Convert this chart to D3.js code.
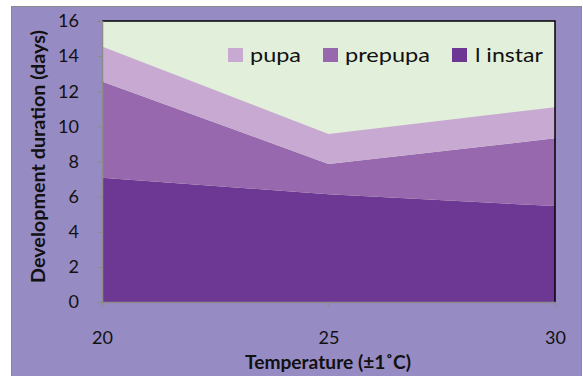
<!DOCTYPE html>
<html><head><meta charset="utf-8">
<script src="https://cdn.jsdelivr.net/npm/d3@7"></script>
<style>body{margin:0;background:#fff;}svg{display:block;}</style>
</head><body>
<svg id="c" width="583" height="376"></svg>
<script>
const temperatures = [20, 25, 30];
const seriesNames = ["l instar", "prepupa", "pupa"];
const lInstar = [7.08, 6.13, 5.46];
const prepupa = [5.47, 1.73, 3.86];
const pupa = [2.0, 1.71, 1.77];
const yTicks = [0, 2, 4, 6, 8, 10, 12, 14, 16];
const colors = {"l instar": "#6D3894", "prepupa": "#9868AE", "pupa": "#C8A9D2"};
const legendOrder = ["pupa", "prepupa", "l instar"];

const svg = d3.select("#c");
const font = "Lato, 'Open Sans', sans-serif";
// outer frame
svg.append("rect").attr("x", 11.5).attr("y", 6.5).attr("width", 570).attr("height", 372)
  .attr("fill", "#978BC4").attr("stroke", "#8a8a8a").attr("stroke-width", 1);

const L = 102, T = 21, R = 555, B = 302;
const x = d3.scaleLinear().domain([20, 30]).range([L, R]);
const y = d3.scaleLinear().domain([0, 16]).range([B, T]);

svg.append("rect").attr("x", L).attr("y", T).attr("width", R - L).attr("height", B - T).attr("fill", "#E2EFDA");

const rows = temperatures.map((t, i) => ({t, "l instar": lInstar[i], "prepupa": prepupa[i], "pupa": pupa[i]}));
const stack = d3.stack().keys(seriesNames)(rows);
const area = d3.area().x(d => x(d.data.t)).y0(d => y(d[0])).y1(d => y(d[1]));
svg.append("g").selectAll("path").data(stack).join("path")
  .attr("d", area).attr("fill", d => colors[d.key]);

// plot border top/right
svg.append("path").attr("d", `M${L},${T}H${R}V${B}`).attr("fill", "none").attr("stroke", "#000").attr("stroke-width", 1.5);

// axes
const yAxis = d3.axisLeft(y).tickValues(yTicks).tickSize(5).tickPadding(18);
const gy = svg.append("g").attr("transform", `translate(${L},0)`).call(yAxis);
const xAxis = d3.axisBottom(x).tickValues(temperatures).tickSize(5).tickPadding(24);
const gx = svg.append("g").attr("transform", `translate(0,${B})`).call(xAxis);
[gy, gx].forEach(g => {
  g.select(".domain").attr("stroke", "#8c8c8c").attr("stroke-width", 1.5);
  g.selectAll(".tick line").attr("stroke", "#8c8c8c");
  g.selectAll("text").attr("font-family", font).attr("font-size", 18).attr("fill", "#111");
});

svg.append("text").attr("x", 328).attr("y", 369).attr("text-anchor", "middle")
  .attr("font-family", font).attr("font-weight", "bold").attr("font-size", 19).attr("fill", "#111")
  .attr("textLength", 166).attr("lengthAdjust", "spacingAndGlyphs")
  .text("Temperature (±1˚C)");
svg.append("text").attr("transform", `translate(45,${(30 + 283) / 2}) rotate(-90)`).attr("text-anchor", "middle")
  .attr("font-family", font).attr("font-weight", "bold").attr("font-size", 18.5).attr("fill", "#111")
  .attr("textLength", 253).attr("lengthAdjust", "spacingAndGlyphs")
  .text("Development duration (days)");

// legend
const legX = [228, 323, 452];
const legLen = [51, 85, 68];
const lg = svg.append("g").selectAll("g").data(legendOrder).join("g")
  .attr("transform", (d, i) => `translate(${legX[i]},48)`);
lg.append("rect").attr("width", 15).attr("height", 14).attr("fill", d => colors[d]);
lg.append("text").attr("x", (d, i) => i === 2 ? 23 : 22).attr("y", 14).attr("font-family", font).attr("font-size", 20)
  .attr("fill", "#111").attr("textLength", (d, i) => legLen[i]).attr("lengthAdjust", "spacingAndGlyphs").text(d => d);
</script>
</body></html>
